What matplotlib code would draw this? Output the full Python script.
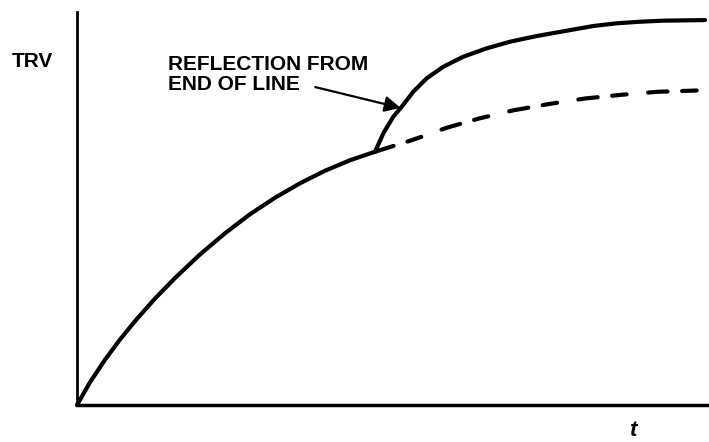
import numpy as np
import matplotlib
matplotlib.use("Agg")
import matplotlib.pyplot as plt

plt.rcParams['font.family'] = ['Liberation Sans', 'DejaVu Sans']
plt.rcParams['lines.scale_dashes'] = False

# TRV curve (time and voltage in arbitrary units, 0-100)
t_rise = [0, 2.06, 4.43, 6.80, 9.49, 12.34, 15.51, 19.46, 23.42, 27.37,
          31.33, 35.28, 39.24, 43.20, 47.15]
v_rise = [0, 5.79, 11.51, 16.67, 21.93, 27.07, 32.32, 38.30, 43.70, 48.54,
          52.74, 56.42, 59.61, 62.28, 64.44]

# with the reflection from the end of the line
t_refl = [47.15, 48.47, 50.05, 51.38, 53.21, 55.33, 57.96, 61.12, 64.83,
          68.51, 72.74, 77.48, 81.69, 85.40, 89.08, 92.77, 99.37]
v_refl = [64.44, 69.14, 73.36, 75.90, 79.72, 83.13, 86.08, 88.63, 90.76,
          92.44, 93.89, 95.24, 96.44, 97.13, 97.53, 97.80, 97.95]

# without the reflection (dashed)
t_noref = [47.15, 53.0, 58.4, 63.6, 69.1, 74.7, 80.4, 85.9, 91.8, 99.4]
v_noref = [64.44, 67.4, 70.5, 72.9, 75.0, 76.6, 78.0, 78.9, 79.7, 80.1]

fig = plt.figure(figsize=(7.09, 4.42), dpi=100)
ax = fig.add_axes([0.1086, 0.0837, 0.8914, 0.8891])

lw = 3.0
ax.plot(t_rise, v_rise, color='black', lw=lw, solid_capstyle='round',
        solid_joinstyle='round', clip_on=False)
ax.plot(t_refl, v_refl, color='black', lw=lw, solid_capstyle='round',
        solid_joinstyle='round', clip_on=False)
ax.plot(t_noref, v_noref, color='black', lw=lw, dashes=(14, 10.5, 10.5, 15.5),
        dash_capstyle='round', clip_on=False)

ax.set_xlim(0, 100)
ax.set_ylim(0, 100)
ax.set_xticks([])
ax.set_yticks([])
for side in ['top', 'right']:
    ax.spines[side].set_visible(False)
ax.spines['left'].set_linewidth(2)
ax.spines['bottom'].set_linewidth(2.5)

ax.text(14.4, 89.0, 'REFLECTION FROM\nEND OF LINE', ha='left', va='top',
        fontsize=15, fontweight='bold', linespacing=1.05)
ax.annotate('', xy=(51.2, 75.6), xytext=(37.7, 80.9),
            arrowprops=dict(arrowstyle='-|>', lw=1.6, color='black',
                            mutation_scale=24, shrinkA=0, shrinkB=0))

ax.text(-0.07, 0.873, 'TRV', transform=ax.transAxes, ha='center', va='center',
        fontsize=15, fontweight='bold')
ax.text(0.88, -0.066, 't', transform=ax.transAxes, ha='center', va='center',
        fontsize=16, fontweight='bold', fontstyle='italic')

fig.savefig('out.png', dpi=100)
